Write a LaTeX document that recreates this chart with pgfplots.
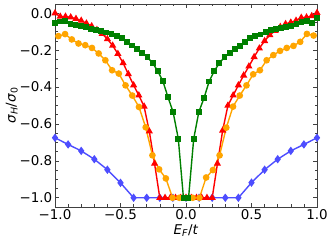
\documentclass[border=0pt]{standalone}
\usepackage{fontspec}
\setmainfont{DejaVu Sans}
\usepackage{pgfplots}
\pgfplotsset{compat=1.18}
\definecolor{myred}{RGB}{255,0,0}
\definecolor{myorange}{RGB}{255,165,0}
\definecolor{mygreen}{RGB}{0,128,0}
\definecolor{myblue}{RGB}{77,77,255}
\begin{document}
\begin{tikzpicture}
\begin{axis}[
  scale only axis, width=262bp, height=203bp,
  xmin=-1, xmax=1, ymin=-1.05, ymax=0.05,
  xtick={-1,-0.5,0,0.5,1}, xticklabels={−1.0,−0.5,0.0,0.5,1.0},
  ytick={-1,-0.8,-0.6,-0.4,-0.2,0}, yticklabels={−1.0,−0.8,−0.6,−0.4,−0.2,0.0},
  minor x tick num=4, minor y tick num=3,
  tick align=inside, major tick length=4bp, minor tick length=2.5bp,
  tick style={black!75, line width=0.6bp},
  axis line style={black!75, line width=0.8bp},
  ticklabel style={font=\fontsize{13.5}{16}\selectfont, inner sep=2.5bp},
  every axis y label/.style={at={(axis description cs:-0.165,0.5)}, rotate=90, anchor=center, font=\fontsize{13.5}{16}\selectfont},
  every axis x label/.style={at={(axis description cs:0.5,-0.115)}, anchor=center, font=\fontsize{13.5}{16}\selectfont},
  xlabel={\textit{E}\textsubscript{\textit{F}}/\textit{t}},
  ylabel={\textit{σ}\textsubscript{\textit{H}}/\textit{σ}\textsubscript{0}},
]
\addplot[myblue, line width=1.4bp, mark=diamond*, mark size=3.1bp] coordinates {
(-1.0,-0.675) (-0.9,-0.711) (-0.8,-0.746) (-0.7,-0.791) (-0.6,-0.848) (-0.5,-0.919)
(-0.4,-1.0) (-0.3,-1.0) (-0.2,-1.0) (-0.1,-1.0) (0.0,-1.0) (0.1,-1.0) (0.2,-1.0) (0.3,-1.0) (0.4,-1.0)
(0.5,-0.918) (0.6,-0.848) (0.7,-0.791) (0.8,-0.746) (0.9,-0.711) (1.0,-0.675)
};
\addplot[myred, line width=1.4bp, mark=triangle*, mark size=2.8bp] coordinates {
(-1.00,0.0) (-0.96,-0.018) (-0.92,-0.018) (-0.88,-0.022) (-0.84,-0.030) (-0.80,-0.040)
(-0.76,-0.055) (-0.72,-0.070) (-0.68,-0.090) (-0.64,-0.112) (-0.60,-0.140) (-0.56,-0.175)
(-0.52,-0.220) (-0.48,-0.270) (-0.44,-0.330) (-0.40,-0.390) (-0.36,-0.445) (-0.32,-0.505)
(-0.28,-0.640) (-0.24,-0.815) (-0.20,-1.0) (-0.16,-1.0) (-0.12,-1.0) (-0.08,-1.0) (-0.04,-1.0)
(0.00,-1.0) (0.04,-1.0) (0.08,-1.0) (0.12,-1.0) (0.16,-1.0) (0.20,-1.0)
(0.24,-0.815) (0.28,-0.635) (0.32,-0.500) (0.36,-0.445) (0.40,-0.390) (0.44,-0.337)
(0.48,-0.288) (0.52,-0.237) (0.56,-0.190) (0.60,-0.150) (0.64,-0.118) (0.68,-0.095)
(0.72,-0.074) (0.76,-0.058) (0.80,-0.050) (0.84,-0.040) (0.88,-0.024) (0.92,-0.022)
(0.96,-0.015) (1.00,0.002)
};
\addplot[myorange, line width=1.4bp, mark=*, mark size=2.6bp] coordinates {
(-0.9744,-0.124) (-0.9231,-0.113) (-0.8718,-0.142) (-0.8205,-0.164) (-0.7692,-0.173)
(-0.7179,-0.188) (-0.6667,-0.218) (-0.6154,-0.255) (-0.5641,-0.309) (-0.5128,-0.327)
(-0.4615,-0.391) (-0.4103,-0.446) (-0.3590,-0.508) (-0.3077,-0.618) (-0.2564,-0.770)
(-0.2051,-0.846) (-0.1538,-0.895) (-0.1026,-1.0) (-0.0513,-1.0) (0.0,-1.0)
(0.0513,-1.0) (0.1026,-1.0) (0.1538,-0.890) (0.2051,-0.850) (0.2564,-0.770)
(0.3077,-0.620) (0.3590,-0.506) (0.4103,-0.446) (0.4615,-0.391) (0.5128,-0.331)
(0.5641,-0.309) (0.6154,-0.255) (0.6667,-0.227) (0.7179,-0.204) (0.7692,-0.188)
(0.8205,-0.177) (0.8718,-0.155) (0.9231,-0.112) (0.9744,-0.121)
};
\addplot[mygreen, line width=1.4bp, mark=square*, mark size=2.2bp] coordinates {
(-1.0000,-0.055) (-0.9608,-0.045) (-0.9216,-0.040) (-0.8824,-0.058) (-0.8431,-0.064)
(-0.8039,-0.069) (-0.7647,-0.074) (-0.7255,-0.085) (-0.6863,-0.090) (-0.6471,-0.095)
(-0.6078,-0.104) (-0.5686,-0.112) (-0.5294,-0.122) (-0.4902,-0.135) (-0.4510,-0.155)
(-0.4118,-0.175) (-0.3725,-0.195) (-0.3333,-0.215) (-0.2941,-0.238) (-0.2549,-0.270)
(-0.2157,-0.313) (-0.1765,-0.368) (-0.1373,-0.455) (-0.0980,-0.537) (-0.0588,-0.680)
(-0.0196,-1.0) (0.0196,-1.0)
(0.0588,-0.680) (0.0980,-0.535) (0.1373,-0.460) (0.1765,-0.370) (0.2157,-0.313)
(0.2549,-0.271) (0.2941,-0.237) (0.3333,-0.215) (0.3725,-0.195) (0.4118,-0.177)
(0.4510,-0.158) (0.4902,-0.135) (0.5294,-0.124) (0.5686,-0.115) (0.6078,-0.100)
(0.6471,-0.091) (0.6863,-0.087) (0.7255,-0.082) (0.7647,-0.075) (0.8039,-0.069)
(0.8431,-0.058) (0.8824,-0.046) (0.9216,-0.040) (0.9608,-0.052) (1.0000,-0.027)
};
\end{axis}
\pgfresetboundingbox
\path (current axis.south west) ++(-55bp,-35bp) rectangle ([shift={(15bp,4bp)}]current axis.north east);
\end{tikzpicture}
\end{document}
